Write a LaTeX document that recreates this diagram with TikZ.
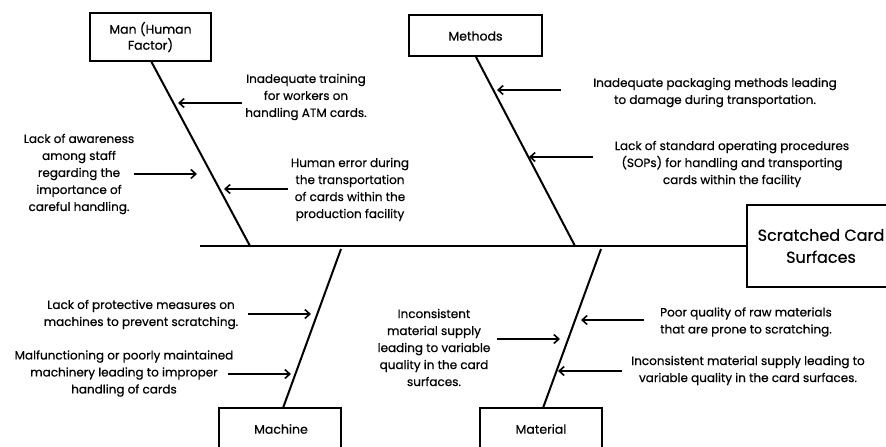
\documentclass[tikz,border=0pt]{standalone}
\usepackage{fontspec}
\setmainfont{Poppins}[FakeBold=0.5]
\usetikzlibrary{arrows.meta}
\begin{document}
\begin{tikzpicture}[x=1pt,y=-1pt,
  txt/.style={font=\fontsize{12}{17}\selectfont, align=center, inner sep=0pt},
  lbl/.style={font=\fontsize{12.5}{16}\selectfont, align=center, inner sep=0pt},
  bone/.style={line width=2pt},
  boxline/.style={line width=1.6pt},
  cause/.style={line width=1.6pt, -{Straight Barb[length=5pt,width=9pt,line width=1.6pt]}}]
\useasboundingbox (0,0) rectangle (886,447);
\clip (0,0) rectangle (886,447);
\fill[white] (0,0) rectangle (886,447);
% category boxes
\draw[boxline] (90,13) rectangle (211,61);
\node[lbl] (man) at (150.5,37) {Man (Human\\Factor)};
\draw[boxline] (409,15) rectangle (542,56);
\node[lbl] (methods) at (475.5,36) {Methods};
\draw[boxline] (219,408) rectangle (341,460);
\node[lbl] (machine) at (281,429) {Machine};
\draw[boxline] (480,408) rectangle (602,460);
\node[lbl] (material) at (541,429) {Material};
\draw[boxline] (747,205) rectangle (900,287);
\node[font=\fontsize{16}{22}\selectfont, align=center, inner sep=0pt] (effect) at (821,246) {Scratched Card\\Surfaces};
% bone end points
\coordinate (spineL) at (200,246);
\coordinate (spineR) at (747,246);
\coordinate (manT) at (151,61);
\coordinate (manB) at (250,246);
\coordinate (metT) at (476,57);
\coordinate (metB) at (575,246);
\coordinate (macT) at (341,249);
\coordinate (macB) at (283,408);
\coordinate (matT) at (601,249);
\coordinate (matB) at (543,408);
\draw[bone] (spineL) -- (spineR);
\draw[bone] (manT) -- (manB);
\draw[bone] (metT) -- (metB);
\draw[bone] (macT) -- (macB);
\draw[bone] (matT) -- (matB);
% causes: Man
\node[txt] (c1) at (306,97) {Inadequate training\\for workers on\\handling ATM cards.};
\coordinate (c1s) at (242,103); \coordinate (c1e) at (178,103);
\draw[cause] (c1s) -- (c1e);
\node[txt] (c2) at (79,174) {Lack of awareness\\among staff\\regarding the\\importance of\\careful handling.};
\coordinate (c2s) at (134,174); \coordinate (c2e) at (197,174);
\draw[cause] (c2s) -- (c2e);
\node[txt] (c3) at (350,189.5) {Human error during\\the transportation\\of cards within the\\production facility};
\coordinate (c3s) at (288,189); \coordinate (c3e) at (224,189);
\draw[cause] (c3s) -- (c3e);
% causes: Methods
\node[txt] (c4) at (715,92.5) {Inadequate packaging methods leading\\to damage during transportation.};
\coordinate (c4s) at (561,90); \coordinate (c4e) at (497,90);
\draw[cause] (c4s) -- (c4e);
\node[txt] (c5) at (732,164) {Lack of standard operating procedures\\(SOPs) for handling and transporting\\cards within the facility};
\coordinate (c5s) at (593,157); \coordinate (c5e) at (529,157);
\draw[cause] (c5s) -- (c5e);
% causes: Machine
\node[txt] (c6) at (141,314.5) {Lack of protective measures on\\machines to prevent scratching.};
\coordinate (c6s) at (248,314); \coordinate (c6e) at (311,314);
\draw[cause] (c6s) -- (c6e);
\node[txt] (c7) at (124,373.5) {Malfunctioning or poorly maintained\\machinery leading to improper\\handling of cards};
\coordinate (c7s) at (228,374); \coordinate (c7e) at (291,374);
\draw[cause] (c7s) -- (c7e);
% causes: Material
\node[txt] (c8) at (434,347.5) {Inconsistent\\material supply\\leading to variable\\quality in the card\\surfaces.};
\coordinate (c8s) at (497,339); \coordinate (c8e) at (560,339);
\draw[cause] (c8s) -- (c8e);
\node[txt] (c9) at (746,322) {Poor quality of raw materials\\that are prone to scratching.};
\coordinate (c9s) at (644,320); \coordinate (c9e) at (581,320);
\draw[cause] (c9s) -- (c9e);
\node[txt] (c10) at (748,370.5) {Inconsistent material supply leading to\\variable quality in the card surfaces.};
\coordinate (c10s) at (622,371); \coordinate (c10e) at (558,371);
\draw[cause] (c10s) -- (c10e);
\end{tikzpicture}
\end{document}
